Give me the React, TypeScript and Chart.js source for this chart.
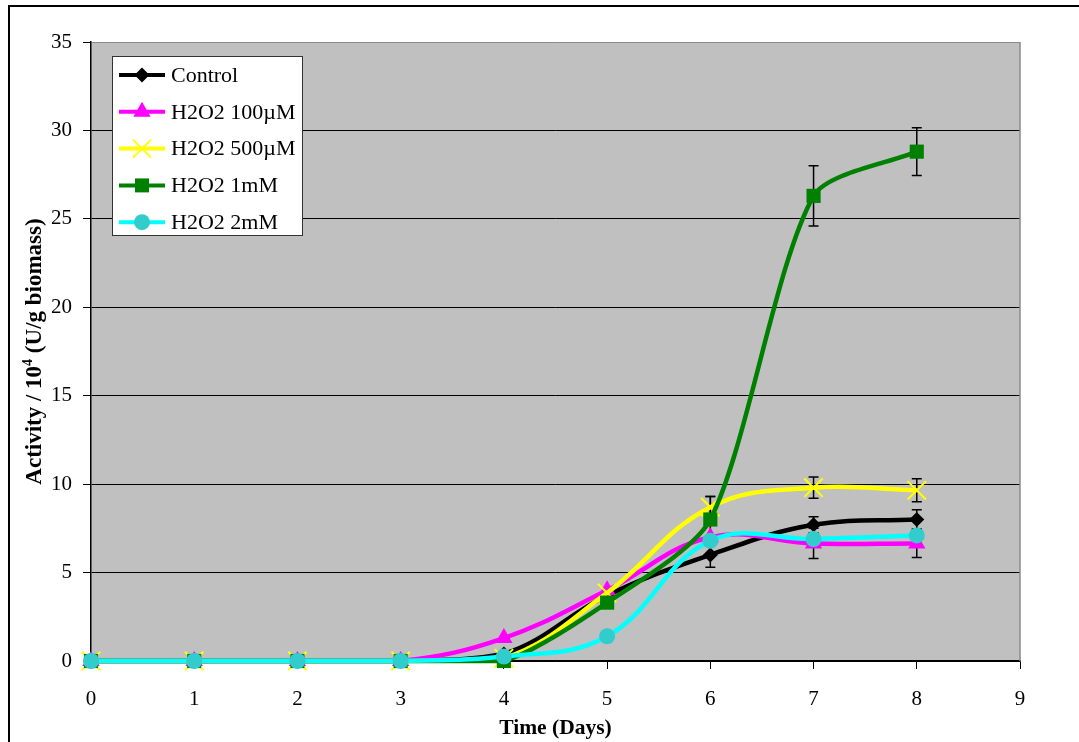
import { useEffect, useRef } from 'react';
import { Chart, registerables } from 'chart.js';

Chart.register(...registerables);

// Sampling days (x axis)
const days = [0, 1, 2, 3, 4, 5, 6, 7, 8];

// Series names as shown in the legend
const seriesNames = ['Control', 'H2O2 100µM', 'H2O2 500µM', 'H2O2 1mM', 'H2O2 2mM'];

// Activity / 10^4 (U/g biomass)
const control = [0, 0, 0, 0, 0.4, 3.7, 6.0, 7.7, 8.0];
const h2o2_100uM = [0, 0, 0, 0, 1.3, 4.0, 7.0, 6.65, 6.65];
const h2o2_500uM = [0, 0, 0, 0, 0.15, 3.85, 8.7, 9.8, 9.65];
const h2o2_1mM = [0, 0, 0, 0, 0, 3.3, 8.0, 26.3, 28.8];
const h2o2_2mM = [0, 0, 0, 0, 0.25, 1.4, 6.8, 6.9, 7.1];

// Error bar half-ranges (0 = no bar)
const controlErr = [0, 0, 0, 0, 0, 0, 0.7, 0.45, 0.55];
const h2o2_100uMErr = [0, 0, 0, 0, 0, 0, 0, 0.85, 0.8];
const h2o2_500uMErr = [0, 0, 0, 0, 0, 0, 0.6, 0.6, 0.65];
const h2o2_1mMErr = [0, 0, 0, 0, 0, 0, 1.3, 1.7, 1.35];
const h2o2_2mMErr = [0, 0, 0, 0, 0, 0, 0, 0, 0];

// Axis ranges
const xMin = 0, xMax = 9, xStep = 1;
const yMin = 0, yMax = 35, yStep = 5;

const xTitle = 'Time (Days)';
const yTitleParts = ['Activity / 10', '4', ' (U/g biomass)'];

type Style = {
  line: string;
  fill: string;
  pointStyle: string;
  radius: number;
  tension: number;
};

const styles: Style[] = [
  { line: '#000000', fill: '#000000', pointStyle: 'rectRot', radius: 7.5, tension: 0.4 },
  { line: '#FF00FF', fill: '#FF00FF', pointStyle: 'triangle', radius: 10, tension: 0.4 },
  { line: '#FFFF00', fill: '#FFFF00', pointStyle: 'crossRot', radius: 13, tension: 0.4 },
  { line: '#008000', fill: '#008000', pointStyle: 'rect', radius: 10, tension: 0.25 },
  { line: '#00FFFF', fill: '#33CCCC', pointStyle: 'circle', radius: 8, tension: 0.4 },
];

const seriesValues = [control, h2o2_100uM, h2o2_500uM, h2o2_1mM, h2o2_2mM];
const seriesErrors = [controlErr, h2o2_100uMErr, h2o2_500uMErr, h2o2_1mMErr, h2o2_2mMErr];

const SERIF = '"Liberation Serif", "Times New Roman", serif';

function drawLegendMarker(ctx: CanvasRenderingContext2D, kind: string, x: number, y: number, color: string) {
  ctx.save();
  ctx.fillStyle = color;
  ctx.strokeStyle = color;
  ctx.beginPath();
  if (kind === 'rectRot') {
    const r = 7.5;
    ctx.moveTo(x, y - r);
    ctx.lineTo(x + r, y);
    ctx.lineTo(x, y + r);
    ctx.lineTo(x - r, y);
    ctx.closePath();
    ctx.fill();
  } else if (kind === 'triangle') {
    const r = 10;
    ctx.moveTo(x, y - r);
    ctx.lineTo(x + r * Math.sin(Math.PI * 2 / 3), y - r * Math.cos(Math.PI * 2 / 3));
    ctx.lineTo(x - r * Math.sin(Math.PI * 2 / 3), y - r * Math.cos(Math.PI * 2 / 3));
    ctx.closePath();
    ctx.fill();
  } else if (kind === 'crossRot') {
    const h = 9;
    ctx.lineWidth = 2;
    ctx.moveTo(x - h, y - h);
    ctx.lineTo(x + h, y + h);
    ctx.moveTo(x + h, y - h);
    ctx.lineTo(x - h, y + h);
    ctx.stroke();
  } else if (kind === 'rect') {
    const h = 7;
    ctx.rect(x - h, y - h, 2 * h, 2 * h);
    ctx.fill();
  } else {
    ctx.arc(x, y, 8, 0, Math.PI * 2);
    ctx.fill();
  }
  ctx.restore();
}

const decorPlugin = {
  id: 'decor',
  beforeDraw(chart: any) {
    const { ctx, chartArea } = chart;
    ctx.save();
    // plot area background
    ctx.fillStyle = '#C0C0C0';
    ctx.fillRect(chartArea.left, chartArea.top, chartArea.right - chartArea.left, chartArea.bottom - chartArea.top);
    // outer frame (left and top edges)
    ctx.strokeStyle = '#000';
    ctx.lineWidth = 2;
    ctx.beginPath();
    ctx.moveTo(9, chart.height);
    ctx.lineTo(9, 6);
    ctx.lineTo(chart.width, 6);
    ctx.stroke();
    ctx.restore();
  },
  beforeDatasetsDraw(chart: any) {
    const { ctx, chartArea, scales } = chart;
    ctx.save();
    // right border of plot area
    ctx.strokeStyle = '#8A8A8A';
    ctx.lineWidth = 1.5;
    ctx.beginPath();
    ctx.moveTo(chartArea.right, chartArea.top);
    ctx.lineTo(chartArea.right, chartArea.bottom);
    ctx.stroke();
    // error bars
    ctx.strokeStyle = '#000';
    ctx.lineWidth = 1.5;
    const cap = 5;
    seriesValues.forEach((vals, si) => {
      const errs = seriesErrors[si];
      vals.forEach((v, i) => {
        const e = errs[i];
        if (!e) return;
        const x = scales.x.getPixelForValue(days[i]);
        const yTop = scales.y.getPixelForValue(v + e);
        const yBot = scales.y.getPixelForValue(v - e);
        ctx.beginPath();
        ctx.moveTo(x, yTop);
        ctx.lineTo(x, yBot);
        ctx.moveTo(x - cap, yTop);
        ctx.lineTo(x + cap, yTop);
        ctx.moveTo(x - cap, yBot);
        ctx.lineTo(x + cap, yBot);
        ctx.stroke();
      });
    });
    ctx.restore();
  },
  afterDraw(chart: any) {
    const { ctx, chartArea } = chart;
    ctx.save();

    // legend box
    const lx = 112, ly = 56, lw = 190, lh = 179;
    ctx.fillStyle = '#FFFFFF';
    ctx.fillRect(lx, ly, lw, lh);
    ctx.strokeStyle = '#333';
    ctx.lineWidth = 1;
    ctx.strokeRect(lx + 0.5, ly + 0.5, lw, lh);
    const rowY0 = 75, rowStep = 36.8;
    seriesNames.forEach((name, i) => {
      const y = rowY0 + i * rowStep;
      const s = styles[i];
      ctx.strokeStyle = s.line;
      ctx.lineWidth = 4;
      ctx.beginPath();
      ctx.moveTo(119, y);
      ctx.lineTo(165, y);
      ctx.stroke();
      drawLegendMarker(ctx, s.pointStyle, 142, y, s.fill);
      ctx.fillStyle = '#000';
      ctx.font = `22px ${SERIF}`;
      ctx.textAlign = 'left';
      ctx.textBaseline = 'middle';
      ctx.fillText(name, 171, y + 1);
    });

    // x axis title
    ctx.fillStyle = '#000';
    ctx.font = `bold 21.5px ${SERIF}`;
    ctx.textAlign = 'center';
    ctx.textBaseline = 'middle';
    ctx.fillText(xTitle, (chartArea.left + chartArea.right) / 2, 728);

    // y axis title with superscript
    const mainFont = `bold 23px ${SERIF}`;
    const supFont = `bold 14px ${SERIF}`;
    ctx.font = mainFont;
    const w0 = ctx.measureText(yTitleParts[0]).width;
    const w2 = ctx.measureText(yTitleParts[2]).width;
    ctx.font = supFont;
    const w1 = ctx.measureText(yTitleParts[1]).width;
    const total = w0 + w1 + w2;
    ctx.translate(33, (chartArea.top + chartArea.bottom) / 2);
    ctx.rotate(-Math.PI / 2);
    ctx.textAlign = 'left';
    ctx.textBaseline = 'alphabetic';
    let cx = -total / 2;
    const base = 8;
    ctx.font = mainFont;
    ctx.fillText(yTitleParts[0], cx, base);
    cx += w0;
    ctx.font = supFont;
    ctx.fillText(yTitleParts[1], cx, base - 9);
    cx += w1;
    ctx.font = mainFont;
    ctx.fillText(yTitleParts[2], cx, base);

    ctx.restore();
  },
};

export default function App() {
  const canvasRef = useRef<HTMLCanvasElement | null>(null);

  useEffect(() => {
    const canvas = canvasRef.current;
    if (!canvas) return;

    const datasets = seriesValues.map((vals, i) => {
      const s = styles[i];
      const isCross = s.pointStyle === 'crossRot';
      return {
        label: seriesNames[i],
        data: vals.map((v, k) => ({ x: days[k], y: v })),
        borderColor: s.line,
        backgroundColor: s.fill,
        borderWidth: 4.5,
        tension: s.tension,
        pointStyle: s.pointStyle,
        pointRadius: s.radius,
        pointBackgroundColor: s.fill,
        pointBorderColor: s.fill,
        pointBorderWidth: isCross ? 2 : 0,
        clip: false,
        order: seriesValues.length - 1 - i,
      };
    });

    const tickFont = { family: SERIF, size: 21 };

    const chart = new Chart(canvas, {
      type: 'line',
      data: { datasets } as any,
      plugins: [decorPlugin],
      options: {
        responsive: false,
        animation: false,
        events: [],
        layout: { padding: { left: 0, top: 42, right: 59, bottom: 0 } },
        plugins: {
          legend: { display: false },
          tooltip: { enabled: false },
        },
        scales: {
          x: {
            type: 'linear',
            min: xMin,
            max: xMax,
            ticks: {
              stepSize: xStep,
              color: '#000',
              font: tickFont,
              padding: 18,
              maxRotation: 0,
            },
            grid: {
              drawOnChartArea: false,
              tickLength: 8,
              tickColor: '#000',
              tickWidth: 1,
            },
            border: { color: '#000', width: 1.5 },
            afterFit: (s: any) => {
              s.height = 81;
            },
          },
          y: {
            type: 'linear',
            min: yMin,
            max: yMax,
            ticks: {
              stepSize: yStep,
              color: '#000',
              font: tickFont,
              padding: 11,
            },
            grid: {
              color: (c: any) => (c.tick && c.tick.value === yMax ? '#8A8A8A' : '#000'),
              lineWidth: 1,
              tickLength: 8,
              tickColor: '#000',
            },
            border: { color: '#000', width: 1.5 },
            afterFit: (s: any) => {
              s.width = 91;
            },
          },
        },
      } as any,
    });

    return () => {
      chart.destroy();
    };
  }, []);

  return (
    <div style={{ position: 'fixed', left: 0, top: 0, width: 1079, height: 742, background: '#fff' }}>
      <canvas ref={canvasRef} width={1079} height={742} style={{ display: 'block' }} />
    </div>
  );
}
